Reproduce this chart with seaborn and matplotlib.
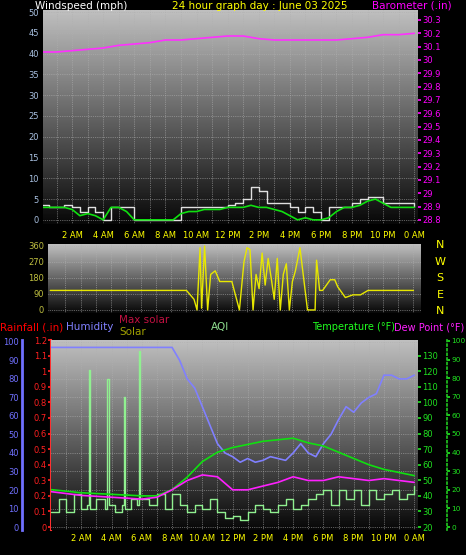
import numpy as np
import pandas as pd
import matplotlib
matplotlib.use("Agg")
import matplotlib.pyplot as plt
import seaborn as sns

sns.set_theme(style="dark")
plt.rcParams['font.family'] = ['DejaVu Sans']

# ---------------- data ----------------
hh = [i * 0.5 for i in range(49)]
wind_gust = [3.5, 3, 3, 3.5, 3, 2, 3, 2, 0, 3, 3, 3, 0, 0, 0, 0, 0, 0, 3, 3, 3, 3, 3, 3, 3.5,
             4, 5, 8, 7, 4, 4, 4, 3, 2, 3, 2, 0, 3, 3, 3, 4, 5, 5.5, 5.5, 4, 4, 4, 4, 3]
wind_avg = [3, 3, 3, 3, 2.5, 1, 1.5, 1, 0, 3, 3, 2, 0, 0, 0, 0, 0, 0, 1.5, 2, 2, 2.5, 2.5, 2.5, 3,
            3, 3, 3.5, 3, 3, 2.5, 2, 1, 0, 0.5, 0, 0, 0.5, 2, 3, 3, 3.5, 4.5, 5, 4, 3, 3, 3, 3]
baro_hours = list(range(25))
baro = [30.06, 30.06, 30.07, 30.08, 30.09, 30.11, 30.12, 30.13, 30.15, 30.15, 30.16, 30.17, 30.18,
        30.18, 30.16, 30.15, 30.15, 30.15, 30.15, 30.15, 30.16, 30.17, 30.19, 30.19, 30.2]

wdir_hours = [0, 1, 2, 3, 4, 5, 6, 7, 8, 9, 9.5, 9.7, 9.9, 10.0, 10.2, 10.4, 10.6, 10.9, 11.2, 11.5,
              12.0, 12.5, 12.8, 13.0, 13.2, 13.4, 13.6, 13.8, 14.0, 14.2, 14.4, 14.6, 14.8, 15.0,
              15.2, 15.4, 15.6, 15.8, 16.0, 16.2, 16.5, 17.0, 17.5, 17.6, 17.8, 18.0, 18.5, 18.8,
              19.0, 19.5, 20.0, 20.5, 21.0, 24.0]
wdir = [110, 110, 110, 110, 110, 110, 110, 110, 110, 110, 60, 0, 350, 10, 360, 0, 200, 220, 160, 160,
        160, 0, 270, 350, 340, 0, 200, 120, 320, 140, 290, 180, 60, 290, 0, 200, 260, 0, 160, 220,
        350, 0, 0, 280, 110, 110, 170, 170, 130, 70, 85, 85, 110, 110]

hum_hours = [0, 8, 8.5, 9, 9.5, 10, 10.5, 11, 11.5, 12, 12.5, 13, 13.5, 14, 14.5, 15, 15.5, 16, 16.5,
             17, 17.5, 18, 18.5, 19, 19.5, 20, 20.5, 21, 21.5, 22, 22.5, 23, 23.5, 24]
humidity = [97, 97, 90, 80, 75, 65, 55, 45, 40, 38, 35, 37, 35, 36, 38, 37, 36, 40, 45, 40, 38, 45,
            50, 58, 65, 62, 67, 70, 72, 82, 82, 80, 80, 82]
t_hours = [0, 2, 4, 6, 7, 8, 9, 10, 11, 12, 13, 14, 15, 16, 17, 18, 19, 20, 21, 22, 23, 24]
temperature = [44, 42, 41, 40, 40, 44, 52, 62, 68, 71, 73, 75, 76, 77, 74, 72, 68, 64, 60, 57, 55, 53]
dewpoint = [19, 17, 16, 15, 16, 20, 25, 28, 27, 20, 20, 22, 24, 27, 25, 25, 27, 26, 25, 26, 25, 24]
solar_hours = [7.5, 8, 8.5, 9, 9.5, 10, 10.5, 11, 12, 13, 14, 14.5, 15, 15.5, 16, 16.5, 17, 17.5, 18, 18.5, 19]
solar = [0, 0.03, 0.1, 0.3, 0.42, 0.5, 0.54, 0.57, 0.6, 0.6, 0.6, 0.57, 0.55, 0.52, 0.45, 0.35, 0.25,
         0.15, 0.06, 0.02, 0]
maxsol_hours = [5.2, 6, 7, 8, 9, 10, 11, 12, 13, 14, 15, 16, 17, 18, 19, 20, 20.6]
max_solar = [0, 0.03, 0.1, 0.25, 0.42, 0.58, 0.7, 0.76, 0.77, 0.74, 0.66, 0.53, 0.38, 0.23, 0.1, 0.02, 0]
aqi_hours = [0, 0.5, 1, 1.5, 2, 2.4, 2.5, 2.6, 3, 3.6, 3.7, 3.8, 4.2, 4.7, 4.8, 4.9, 5.3, 5.7, 5.8, 5.9,
             6.5, 7, 7.5, 8, 8.5, 9, 9.5, 10, 10.5, 11, 11.5, 12, 12.5, 13, 13.5, 14, 14.5, 15,
             15.5, 16, 16.5, 17, 17.5, 18, 18.5, 19, 19.5, 20, 20.5, 21, 21.5, 22, 22.5, 23, 23.5, 24]
aqi = [8, 15, 8, 18, 10, 12, 85, 10, 15, 10, 80, 12, 8, 12, 70, 10, 15, 12, 95, 15, 12, 18, 10, 18,
       12, 8, 12, 10, 15, 8, 5, 6, 4, 8, 12, 10, 8, 12, 15, 10, 12, 15, 18, 20, 12, 20, 15, 20, 12,
       20, 15, 18, 20, 15, 18, 22]
rain = [0] * 25
rain_hours = list(range(25))

tick_hours = list(range(2, 25, 2))
tick_labels = ['2 AM', '4 AM', '6 AM', '8 AM', '10 AM', '12 PM', '2 PM', '4 PM', '6 PM', '8 PM', '10 PM', '0 AM']

# ---------------- layout ----------------
W, H = 466, 555
fig = plt.figure(figsize=(W / 100, H / 100), dpi=100, facecolor='black')

def box(x0, y0, x1, y1):
    return [x0 / W, (H - y1) / H, (x1 - x0) / W, (y1 - y0) / H]

grad = np.linspace(0.75, 0.03, 256).reshape(-1, 1)
FS = 6

def prep(ax):
    ax.set_facecolor('black')
    ax.imshow(grad, cmap='gray', vmin=0, vmax=1, aspect='auto', extent=[0, 1, 0, 1],
              transform=ax.transAxes, zorder=0)
    for h in range(1, 25):
        ax.axvline(h, color='#b0b0b0', lw=0.5, ls=':', zorder=0.5)
    for s in ax.spines.values():
        s.set_visible(False)
    ax.tick_params(colors='#ffff00', labelsize=FS, length=0, pad=3)

def set_x(ax, xlim):
    ax.set_xlim(*xlim)
    ax.set_xticks(tick_hours)
    ax.set_xticklabels(tick_labels)
    ax.set_xlabel('')
    ax.set_ylabel('')

# ---- top panel ----
ax1 = fig.add_axes(box(43, 10, 418, 224))
prep(ax1)
for v in range(0, 51, 5):
    ax1.axhline(v, color='#b0b0b0', lw=0.5, ls=':', zorder=0.5)
sns.lineplot(x=hh, y=wind_gust, ax=ax1, color='#e0e0e0', lw=1, drawstyle='steps-post', zorder=3)
sns.lineplot(x=hh, y=wind_avg, ax=ax1, color='#10e010', lw=1.2, zorder=4)
ax1b = ax1.twinx()
for s in ax1b.spines.values():
    s.set_visible(False)
sns.lineplot(x=baro_hours, y=baro, ax=ax1b, color='#ff30ff', lw=1.2, zorder=4)
set_x(ax1, (0.13, 24.24))
ax1.tick_params(axis='x', pad=5)
ax1.set_ylim(-1, 50.5)
ax1.set_yticks(range(0, 51, 5))
ax1.tick_params(axis='y', colors='#a8c0e0', labelsize=FS)
ax1b.set_ylim(28.77, 30.375)
ax1b.set_yticks([28.8 + 0.1 * i for i in range(16)])
ax1b.set_yticklabels(['29' if i == 2 else '30' if i == 12 else f'{28.8 + 0.1 * i:.1f}' for i in range(16)])
ax1b.tick_params(axis='y', colors='#ff00ff', labelsize=FS, length=2, pad=1)
ax1b.set_ylabel('')
fig.text(35 / W, 1 - 1 / H, 'Windspeed (mph)', color='white', fontsize=7.5, va='top')
fig.text(172 / W, 1 - 1 / H, '24 hour graph day : June 03 2025', color='#ffff00', fontsize=7.5, va='top')
fig.text(372 / W, 1 - 1 / H, 'Barometer (.in)', color='#ff00ff', fontsize=7.5, va='top')

# ---- middle panel ----
ax2 = fig.add_axes(box(48, 244, 421, 313))
prep(ax2)
for v in [0, 90, 180, 270, 360]:
    ax2.axhline(v, color='#b0b0b0', lw=0.5, ls=':', zorder=0.5)
sns.lineplot(x=wdir_hours, y=wdir, ax=ax2, color='#e8e800', lw=1, zorder=3)
set_x(ax2, (-0.15, 24.5))
ax2.set_xticklabels([])
ax2.set_ylim(-17, 371)
ax2.set_yticks([0, 90, 180, 270, 360])
ax2.tick_params(axis='y', colors='#c0c040', labelsize=FS)
for i, c in enumerate(['N', 'W', 'S', 'E', 'N']):
    fig.text(440 / W, 1 - (245 + i * 16.5) / H, c, color='#ffff00', fontsize=8, va='center', ha='center')

# ---- bottom panel ----
ax3 = fig.add_axes(box(51, 340, 418, 530))
prep(ax3)
for v in range(0, 101, 10):
    ax3.axhline(v, color='#b0b0b0', lw=0.5, ls=':', zorder=0.5)

axs = ax3.twinx()  # solar / rain scale
for s in axs.spines.values():
    s.set_visible(False)
axs.fill_between(solar_hours, solar, color='#ffff00', zorder=2)
sns.lineplot(x=maxsol_hours, y=max_solar, ax=axs, color='#c8c8c8', lw=1.2, zorder=3)
sns.lineplot(x=rain_hours, y=rain, ax=axs, color='#ff0000', lw=2, zorder=6)

sns.lineplot(x=aqi_hours, y=aqi, ax=ax3, color='#90f090', lw=1, drawstyle='steps-post', zorder=4)
sns.lineplot(x=hum_hours, y=humidity, ax=ax3, color='#8080ff', lw=1.2, zorder=5)
ax3.set_zorder(axs.get_zorder() + 1)
ax3.patch.set_visible(False)

axt = ax3.twinx()
for s in axt.spines.values():
    s.set_visible(False)
sns.lineplot(x=t_hours, y=temperature, ax=axt, color='#10e010', lw=1.2, zorder=5)

axd = ax3.twinx()
for s in axd.spines.values():
    s.set_visible(False)
sns.lineplot(x=t_hours, y=dewpoint, ax=axd, color='#ff20ff', lw=1.2, zorder=5)

set_x(ax3, (0, 24.25))
ax3.set_ylim(-1.6, 101)
ax3.set_yticks(range(0, 101, 10))
ax3.tick_params(axis='y', colors='#7070ff', labelsize=FS, pad=2)
ax3.spines['left'].set_visible(True)
ax3.spines['left'].set_position(('outward', 21))
ax3.spines['left'].set_color('#7070ff')
ax3.spines['left'].set_linewidth(2)

axs.set_ylim(-0.019, 1.2)
axs.yaxis.tick_left()
axs.set_yticks([0.1 * i for i in range(13)])
axs.set_yticklabels([f'{0.1 * i:g}' for i in range(13)])
axs.tick_params(axis='y', colors='#ff2020', labelsize=FS, length=2, pad=1)
axs.spines['left'].set_visible(True)
axs.spines['left'].set_color('#ff3030')
axs.spines['left'].set_linewidth(1.5)
axs.set_ylabel('')

axt.set_ylim(18.1, 140)
axt.set_yticks(range(20, 131, 10))
axt.tick_params(axis='y', colors='#20e020', labelsize=FS, length=2, pad=1)
axt.set_ylabel('')

axd.set_ylim(-1.6, 100.5)
axd.set_yticks(range(0, 101, 10))
axd.tick_params(axis='y', colors='#20e020', labelsize=5.3, length=2, pad=1)
axd.spines['right'].set_visible(True)
axd.spines['right'].set_position(('outward', 21))
axd.spines['right'].set_color('#20c020')
axd.spines['right'].set_linestyle(':')
axd.set_ylabel('')

fig.text(0, 1 - 327 / H, 'Rainfall (.in)', color='#ff0000', fontsize=7.5, va='center')
fig.text(66 / W, 1 - 327 / H, 'Humidity', color='#8080ff', fontsize=7.5, va='center')
fig.text(119 / W, 1 - 320 / H, 'Max solar', color='#c01040', fontsize=7.5, va='center')
fig.text(119 / W, 1 - 332 / H, 'Solar', color='#a0a000', fontsize=7.5, va='center')
fig.text(211 / W, 1 - 327 / H, 'AQI', color='#90e090', fontsize=7.5, va='center')
fig.text(312 / W, 1 - 327 / H, 'Temperature (°F)', color='#20ff20', fontsize=7, va='center')
fig.text(394 / W, 1 - 327 / H, 'Dew Point (°F)', color='#ff20ff', fontsize=7, va='center')

fig.savefig('out.png', dpi=100, facecolor='black')
